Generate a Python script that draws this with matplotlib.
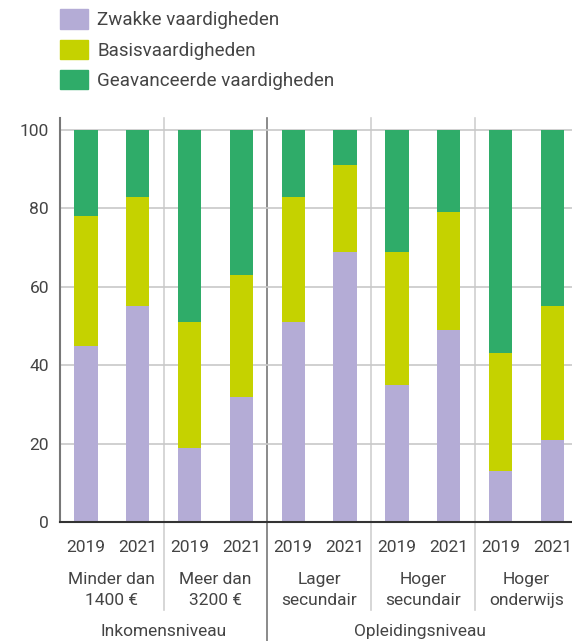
import matplotlib.pyplot as plt
import numpy as np
import matplotlib.patches as mpatches
import matplotlib.transforms as mtransforms

years = ["2019", "2021"] * 5
groups = ["Minder dan\n1400 €", "Meer dan\n3200 €", "Lager\nsecundair", "Hoger\nsecundair", "Hoger\nonderwijs"]
categories = ["Inkomensniveau", "Opleidingsniveau"]
zwak = [45, 55, 19, 32, 51, 69, 35, 49, 13, 21]
basis = [33, 28, 32, 31, 32, 22, 34, 30, 30, 34]
gevorderd = [22, 17, 49, 37, 17, 9, 31, 21, 57, 45]
series_labels = ["Zwakke vaardigheden", "Basisvaardigheden", "Geavanceerde vaardigheden"]
colors = ["#b4acd6", "#c5d200", "#2fac69"]

plt.rcParams['font.family'] = ['Roboto', 'DejaVu Sans']
text_color = "#444444"

fig = plt.figure(figsize=(5.72, 6.41), dpi=100)
ax = fig.add_axes([0.105, 0.1856, 0.895, 0.630])

x = np.arange(len(zwak))
w = 0.45
bottom = np.zeros(len(zwak))
for vals, c in zip([zwak, basis, gevorderd], colors):
    ax.bar(x, vals, width=w, bottom=bottom, color=c, zorder=3)
    bottom += np.array(vals)

ax.set_xlim(-0.5, 9.38)
ax.set_ylim(0, 103)
ax.set_yticks(np.arange(0, 101, 20))
ax.yaxis.grid(True, color="#c8c8c8", linewidth=1.2, zorder=0)
ax.tick_params(axis='y', length=0, labelsize=12.5, labelcolor=text_color, pad=8)
ax.tick_params(axis='x', length=0)
ax.set_xticks([])
for s in ["top", "right"]:
    ax.spines[s].set_visible(False)
ax.spines["left"].set_color("#777777")
ax.spines["left"].set_linewidth(1.5)
ax.spines["bottom"].set_color("#333333")
ax.spines["bottom"].set_linewidth(1.5)
ax.spines["bottom"].set_zorder(4)

trans = mtransforms.blended_transform_factory(ax.transData, ax.transAxes)
# separators
for sx in [1.5, 5.5, 7.5]:
    ax.plot([sx, sx], [1.0, -0.218], transform=trans, color="#d0d0d0", linewidth=1.2, clip_on=False, zorder=1)
ax.plot([3.5, 3.5], [1.0, -0.3], transform=trans, color="#777777", linewidth=1.2, clip_on=False, zorder=1)

# x labels
for xi, yr in zip(x, years):
    ax.text(xi, -0.064, yr, transform=trans, ha="center", va="center", fontsize=12.5, color=text_color)
for gi, g in enumerate(groups):
    ax.text(2 * gi + 0.5, -0.168, g, transform=trans, ha="center", va="center", fontsize=12.5,
            color=text_color, linespacing=1.45)
ax.text(1.5, -0.272, categories[0], transform=trans, ha="center", va="center", fontsize=12.5, color=text_color)
ax.text(6.44, -0.272, categories[1], transform=trans, ha="center", va="center", fontsize=12.5, color=text_color)

# legend
handles = [mpatches.Patch(color=c, label=l) for c, l in zip(colors, series_labels)]
leg = fig.legend(handles=handles, loc="upper left", bbox_to_anchor=(0.089, 1.0), frameon=False,
                 fontsize=13.5, handlelength=1.48, handleheight=1.23, handletextpad=0.48, labelspacing=0.54,
                 borderpad=0.0, labelcolor=text_color)

fig.savefig("out.png", dpi=100)
